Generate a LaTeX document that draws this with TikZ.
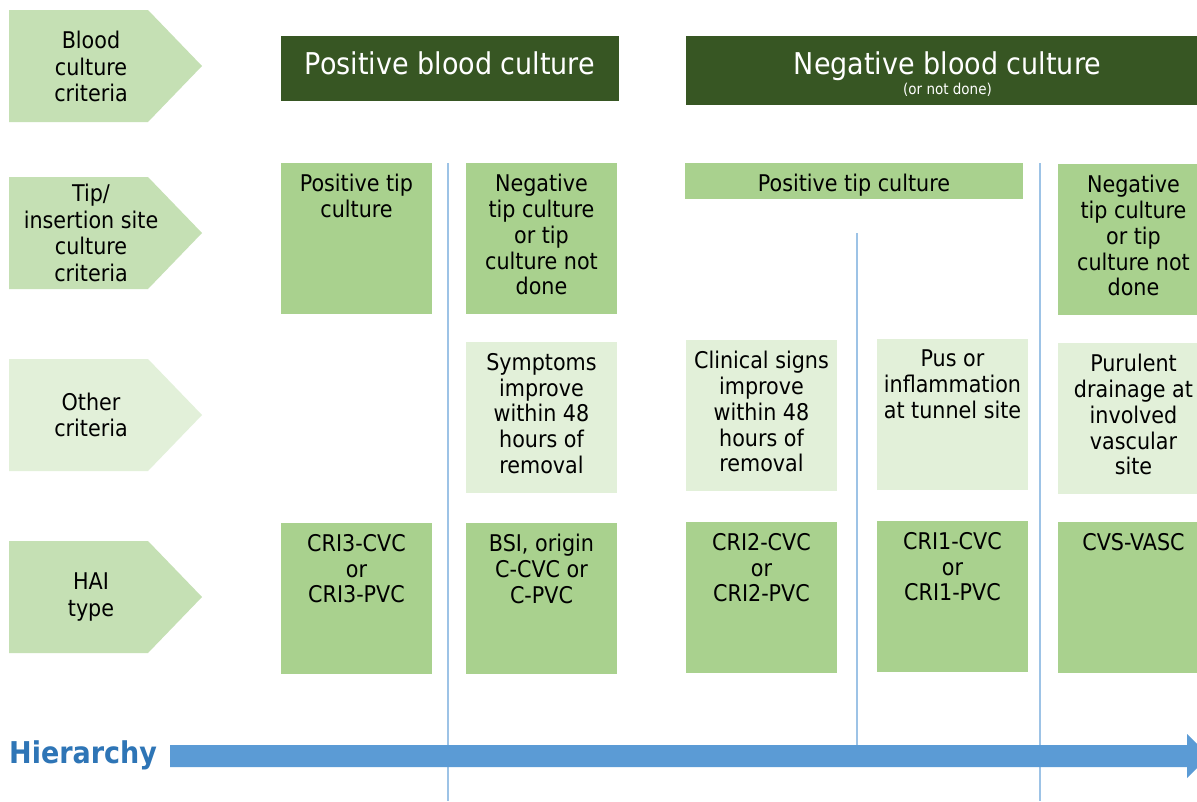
\documentclass[tikz,border=0pt]{standalone}
\usepackage{fontspec}
\setmainfont{DejaVu Sans Condensed}
\definecolor{hdr}{HTML}{375623}
\definecolor{midg}{HTML}{A9D18E}
\definecolor{chevg}{HTML}{C5E0B4}
\definecolor{lightg}{HTML}{E2F0D9}
\definecolor{vln}{HTML}{9DC3E6}
\definecolor{arr}{HTML}{5B9BD5}
\definecolor{hier}{HTML}{2E75B6}
\tikzset{
  mbox/.style={fill=midg, draw=none, inner sep=0pt, outer sep=0pt, anchor=north west},
  lbox/.style={fill=lightg, draw=none, inner sep=0pt, outer sep=0pt, anchor=north west},
  sq/.style={minimum width=151pt, minimum height=151pt},
  btxt/.style={anchor=north, align=center, inner sep=0pt, text=black, font=\fontsize{23}{25.8}\selectfont},
  ctxt/.style={align=center, inner sep=0pt, text=black, font=\fontsize{23}{26.5}\selectfont},
  htxt/.style={anchor=base, inner sep=0pt, text=white, font=\fontsize{30}{34}\selectfont},
  vline/.style={draw=vln, line width=1.6pt},
}
\begin{document}
\begin{tikzpicture}[x=1pt,y=-1pt]
\clip (0,0) rectangle (1197,801);
\fill[white] (0,0) rectangle (1197,801);

% chevrons
\fill[chevg] (9,10) -- (148,10) -- (202,66) -- (148,122) -- (9,122) -- cycle;
\node[ctxt] (c1) at (91,66.5) {Blood\\culture\\criteria};
\fill[chevg] (9,177) -- (148,177) -- (202,233) -- (148,289) -- (9,289) -- cycle;
\node[ctxt] (c2) at (91,233) {Tip/\\insertion site\\culture\\criteria};
\fill[lightg] (9,359) -- (148,359) -- (202,415) -- (148,471) -- (9,471) -- cycle;
\node[ctxt] (c3) at (91,415) {Other\\criteria};
\fill[chevg] (9,541) -- (148,541) -- (202,597) -- (148,653) -- (9,653) -- cycle;
\node[ctxt] (c4) at (91,597) {HAI\\type};

% headers
\node[fill=hdr, inner sep=0pt, outer sep=0pt, anchor=north west, minimum width=338pt, minimum height=65pt] (hp) at (281,36) {};
\node[htxt] (hpt) at (450,74) {Positive blood culture};
\node[fill=hdr, inner sep=0pt, outer sep=0pt, anchor=north west, minimum width=523pt, minimum height=69pt] (hn) at (686,36) {};
\node[htxt] (hnt) at (947.5,74) {Negative blood culture};
\node[anchor=base, inner sep=0pt, text=white, font=\fontsize{15}{17}\selectfont] (hns) at (947.5,94.5) {(or not done)};

% vertical separators
\coordinate (l1a) at (448,163); \coordinate (l1b) at (448,801);
\coordinate (l2a) at (857,233); \coordinate (l2b) at (857,745);
\coordinate (l3a) at (1040,163); \coordinate (l3b) at (1040,801);
\draw[vline] (l1a) -- (l1b);
\draw[vline] (l2a) -- (l2b);
\draw[vline] (l3a) -- (l3b);

% row 2
\node[mbox, sq] (r2a) at (281,163) {};
\node[btxt] (r2at) at ([yshift=-11pt]r2a.north) {Positive tip\\culture};
\node[mbox, sq] (r2b) at (466,163) {};
\node[btxt] (r2bt) at ([yshift=-11pt]r2b.north) {Negative\\tip culture\\or tip\\culture not\\done};
\node[mbox, minimum width=338pt, minimum height=36pt] (r2c) at (685,163) {};
\node[btxt] (r2ct) at ([yshift=-11pt]r2c.north) {Positive tip culture};
\node[mbox, sq] (r2d) at (1058,164) {};
\node[btxt] (r2dt) at ([yshift=-11pt]r2d.north) {Negative\\tip culture\\or tip\\culture not\\done};

% row 3
\node[lbox, sq] (r3b) at (466,342) {};
\node[btxt] (r3bt) at ([yshift=-11pt]r3b.north) {Symptoms\\improve\\within 48\\hours of\\removal};
\node[lbox, sq] (r3c) at (686,340) {};
\node[btxt] (r3ct) at ([yshift=-11pt]r3c.north) {Clinical signs\\improve\\within 48\\hours of\\removal};
\node[lbox, sq] (r3d) at (877,339) {};
\node[btxt] (r3dt) at ([yshift=-11pt]r3d.north) {Pus or\\inflammation\\at tunnel site};
\node[lbox, sq] (r3e) at (1058,343) {};
\node[btxt] (r3et) at ([yshift=-11pt]r3e.north) {Purulent\\drainage at\\involved\\vascular\\site};

% row 4
\node[mbox, sq] (r4a) at (281,523) {};
\node[btxt] (r4at) at ([yshift=-11pt]r4a.north) {CRI3-CVC\\or\\CRI3-PVC};
\node[mbox, sq] (r4b) at (466,523) {};
\node[btxt] (r4bt) at ([yshift=-11pt]r4b.north) {BSI, origin\\C-CVC or\\C-PVC};
\node[mbox, sq] (r4c) at (686,522) {};
\node[btxt] (r4ct) at ([yshift=-11pt]r4c.north) {CRI2-CVC\\or\\CRI2-PVC};
\node[mbox, sq] (r4d) at (877,521) {};
\node[btxt] (r4dt) at ([yshift=-11pt]r4d.north) {CRI1-CVC\\or\\CRI1-PVC};
\node[mbox, sq] (r4e) at (1058,522) {};
\node[btxt] (r4et) at ([yshift=-11pt]r4e.north) {CVS-VASC};

% hierarchy arrow
\node[anchor=base west, inner sep=0pt, text=hier, font=\fontsize{30}{34}\selectfont\bfseries] (hi) at (9,763) {Hierarchy};
\fill[arr] (170,745) -- (1187,745) -- (1187,734) -- (1209,756) -- (1187,778) -- (1187,767) -- (170,767) -- cycle;
\end{tikzpicture}
\end{document}
